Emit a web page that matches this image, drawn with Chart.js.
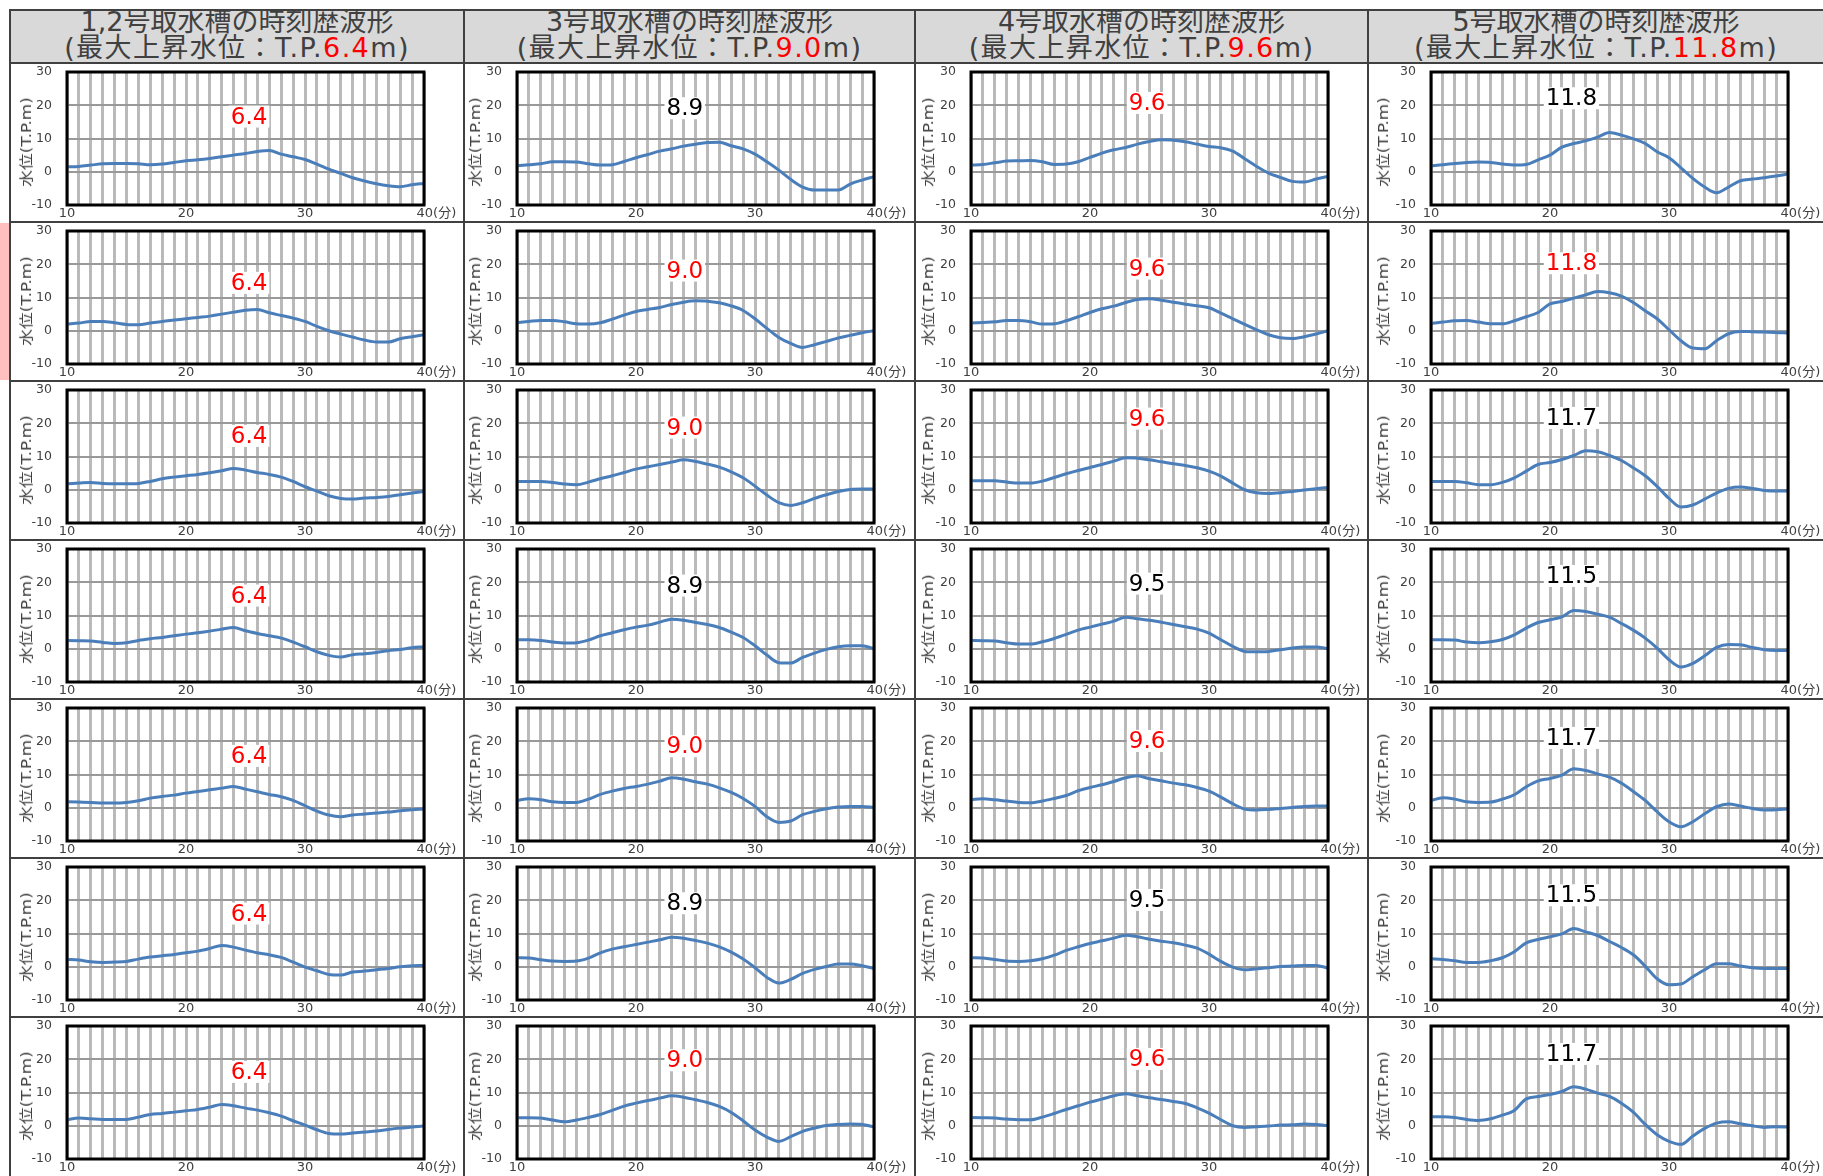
<!DOCTYPE html>
<html lang="ja">
<head>
<meta charset="utf-8">
<title>取水槽の時刻歴波形</title>
<script src="https://cdn.jsdelivr.net/npm/chart.js@4.4.0/dist/chart.umd.min.js"></script>
<style>
  body { margin: 0; background: #fff; }
  #sheet { position: relative; width: 1823px; height: 1176px; overflow: hidden;
           font-family: "DejaVu Sans", "Noto Sans CJK JP", sans-serif; }
  .head { position: absolute; background: #d9d9d9; color: #404040; font-size: 27px;
          line-height: 26px; text-align: center; white-space: nowrap; overflow: hidden; }
  .head div { margin-top: -2px; }
  .head .sub { letter-spacing: 1.4px; }
  .red { color: #ff0000; }
  .line { position: absolute; background: #404040; }
  .ytitle { position: absolute; width: 0; height: 0; }
  .ytitle span { position: absolute; left: 0; top: 0; white-space: nowrap;
                 font-size: 14px; line-height: 14px; color: #404040; }
  canvas { position: absolute; }
</style>
</head>
<body>
<div id="sheet"></div>
<script>
// minutes on the x axis
const minutes = [10, 11, 12, 13, 14, 15, 16, 17, 18, 19, 20, 21, 22, 23, 24, 25,
                 26, 27, 28, 29, 30, 31, 32, 33, 34, 35, 36, 37, 38, 39, 40];

const tankNames = ['1,2号取水槽', '3号取水槽', '4号取水槽', '5号取水槽'];
const maxLevels = ['6.4', '9.0', '9.6', '11.8'];
const yTitle = '水位(T.P.m)';

// water level (T.P.m) per case, one row per case
const tank12Levels = [
  [1.5, 1.6, 2.0, 2.4, 2.5, 2.5, 2.4, 2.1, 2.3, 2.8, 3.3, 3.6, 4.0, 4.5, 5.0, 5.5, 6.1, 6.4, 5.3, 4.5, 3.7, 2.3, 0.8, -0.5, -1.8, -2.8, -3.6, -4.2, -4.5, -3.9, -3.5],
  [2.0, 2.3, 2.8, 2.8, 2.4, 1.9, 1.8, 2.3, 2.8, 3.2, 3.6, 4.0, 4.4, 5.0, 5.6, 6.2, 6.4, 5.4, 4.6, 3.8, 2.8, 1.3, 0.0, -1.0, -1.9, -2.8, -3.4, -3.4, -2.4, -1.8, -1.2],
  [1.8, 2.0, 2.2, 1.9, 1.8, 1.8, 1.9, 2.5, 3.3, 3.8, 4.2, 4.6, 5.1, 5.7, 6.4, 5.9, 5.2, 4.6, 3.8, 2.5, 0.9, -0.4, -1.8, -2.6, -2.8, -2.5, -2.3, -2.0, -1.5, -1.0, -0.5],
  [2.5, 2.4, 2.3, 1.9, 1.6, 1.8, 2.5, 3.0, 3.4, 3.9, 4.4, 4.8, 5.3, 5.9, 6.4, 5.4, 4.6, 3.9, 3.2, 2.0, 0.6, -0.9, -2.0, -2.5, -1.8, -1.5, -1.1, -0.6, -0.2, 0.3, 0.6],
  [1.8, 1.7, 1.6, 1.4, 1.4, 1.6, 2.1, 2.9, 3.4, 3.8, 4.4, 4.9, 5.4, 5.9, 6.4, 5.6, 4.8, 4.0, 3.3, 2.2, 0.6, -1.0, -2.2, -2.7, -2.2, -1.9, -1.6, -1.3, -0.9, -0.6, -0.4],
  [2.2, 2.0, 1.5, 1.3, 1.4, 1.6, 2.3, 2.9, 3.3, 3.7, 4.2, 4.7, 5.5, 6.4, 5.9, 5.0, 4.2, 3.6, 2.8, 1.4, -0.1, -1.2, -2.3, -2.5, -1.6, -1.3, -0.9, -0.5, 0.0, 0.3, 0.4],
  [1.8, 2.3, 2.1, 1.9, 1.9, 1.9, 2.6, 3.4, 3.7, 4.1, 4.5, 4.9, 5.6, 6.4, 6.0, 5.3, 4.7, 3.9, 2.9, 1.5, 0.2, -1.2, -2.3, -2.5, -2.2, -1.9, -1.6, -1.1, -0.7, -0.4, -0.1]
];
const tank3Levels = [
  [1.8, 2.1, 2.4, 3.0, 3.0, 2.9, 2.4, 2.0, 2.1, 3.1, 4.2, 5.2, 6.2, 6.9, 7.7, 8.3, 8.8, 8.9, 7.8, 6.9, 5.3, 3.0, 0.5, -2.3, -4.6, -5.5, -5.5, -5.5, -3.7, -2.5, -1.5],
  [2.4, 2.8, 3.1, 3.1, 2.7, 2.1, 2.0, 2.4, 3.5, 4.7, 5.8, 6.4, 7.0, 7.9, 8.6, 9.0, 8.9, 8.4, 7.5, 6.1, 3.6, 0.7, -2.0, -3.8, -5.0, -4.2, -3.2, -2.2, -1.4, -0.6, 0.0],
  [2.5, 2.5, 2.5, 2.2, 1.7, 1.5, 2.3, 3.3, 4.2, 5.2, 6.2, 6.9, 7.6, 8.3, 9.0, 8.5, 7.7, 6.8, 5.4, 3.6, 1.1, -1.6, -3.9, -4.7, -3.9, -2.6, -1.5, -0.5, 0.1, 0.2, 0.2],
  [2.7, 2.7, 2.5, 2.0, 1.7, 1.8, 2.6, 3.9, 4.8, 5.7, 6.5, 7.1, 8.0, 8.9, 8.6, 7.9, 7.3, 6.4, 5.0, 3.4, 0.9, -1.9, -4.2, -4.3, -2.6, -1.3, -0.2, 0.6, 0.9, 0.9, 0.0],
  [2.2, 2.7, 2.4, 1.8, 1.6, 1.6, 2.6, 4.0, 5.0, 5.8, 6.4, 7.1, 8.0, 9.0, 8.6, 7.8, 7.1, 6.0, 4.6, 2.8, 0.4, -2.7, -4.4, -4.0, -2.1, -1.1, -0.3, 0.2, 0.4, 0.4, 0.1],
  [2.7, 2.6, 2.1, 1.7, 1.6, 1.7, 2.6, 4.2, 5.3, 6.0, 6.7, 7.4, 8.1, 8.9, 8.6, 7.9, 7.1, 6.0, 4.4, 2.3, -0.3, -3.2, -4.9, -3.8, -2.0, -0.8, 0.1, 0.8, 0.8, 0.3, -0.5],
  [2.4, 2.4, 2.3, 1.7, 1.2, 1.7, 2.5, 3.4, 4.6, 5.9, 6.8, 7.6, 8.3, 9.0, 8.6, 7.8, 7.0, 5.8, 4.0, 1.5, -1.3, -3.4, -4.7, -3.3, -1.7, -0.7, 0.1, 0.4, 0.5, 0.4, -0.4]
];
const tank4Levels = [
  [2.0, 2.2, 2.7, 3.2, 3.3, 3.4, 3.0, 2.2, 2.3, 3.0, 4.3, 5.6, 6.6, 7.3, 8.3, 9.1, 9.6, 9.5, 9.0, 8.3, 7.6, 7.2, 6.2, 3.9, 1.6, -0.4, -1.7, -2.9, -3.1, -2.2, -1.4],
  [2.3, 2.5, 2.7, 3.1, 3.1, 2.7, 2.0, 2.1, 3.0, 4.2, 5.5, 6.6, 7.4, 8.5, 9.4, 9.6, 9.2, 8.6, 8.0, 7.5, 6.9, 5.3, 3.6, 1.9, 0.3, -1.2, -2.1, -2.3, -1.8, -1.0, 0.0],
  [2.7, 2.7, 2.7, 2.3, 2.0, 2.0, 2.6, 3.7, 4.8, 5.8, 6.7, 7.6, 8.6, 9.6, 9.5, 9.0, 8.4, 7.8, 7.3, 6.6, 5.6, 4.1, 2.0, 0.0, -0.9, -1.1, -0.9, -0.5, -0.1, 0.3, 0.7],
  [2.5, 2.4, 2.3, 1.8, 1.4, 1.4, 2.1, 3.1, 4.3, 5.6, 6.5, 7.4, 8.3, 9.5, 9.0, 8.6, 8.0, 7.3, 6.6, 5.9, 4.7, 2.7, 0.7, -0.8, -0.9, -0.8, -0.3, 0.2, 0.5, 0.5, 0.0],
  [2.5, 2.7, 2.4, 2.0, 1.6, 1.5, 2.0, 2.8, 3.7, 5.1, 6.1, 6.9, 7.9, 9.0, 9.6, 8.7, 8.1, 7.4, 6.9, 6.1, 5.0, 3.2, 1.2, -0.4, -0.7, -0.5, -0.2, 0.1, 0.4, 0.5, 0.5],
  [2.7, 2.6, 2.2, 1.7, 1.6, 1.8, 2.4, 3.5, 4.9, 6.0, 7.0, 7.8, 8.6, 9.5, 9.0, 8.3, 7.7, 7.2, 6.5, 5.6, 3.8, 1.6, -0.1, -0.9, -0.6, -0.3, 0.1, 0.2, 0.4, 0.4, -0.4],
  [2.5, 2.4, 2.3, 2.0, 1.8, 1.8, 2.6, 3.7, 4.9, 6.0, 7.1, 8.0, 9.0, 9.6, 9.0, 8.4, 7.9, 7.3, 6.7, 5.4, 3.8, 1.8, 0.0, -0.5, -0.3, -0.1, 0.2, 0.3, 0.5, 0.4, 0.0]
];
const tank5Levels = [
  [1.8, 2.1, 2.5, 2.8, 2.9, 2.8, 2.3, 2.0, 2.2, 3.6, 5.0, 7.4, 8.5, 9.3, 10.4, 11.8, 11.0, 9.9, 8.5, 6.0, 4.2, 1.2, -2.0, -4.6, -6.3, -4.6, -2.7, -2.2, -1.8, -1.3, -0.7],
  [2.2, 2.6, 3.0, 3.1, 2.6, 2.1, 2.1, 3.0, 4.2, 5.5, 8.1, 8.8, 9.8, 10.8, 11.8, 11.4, 10.4, 8.5, 6.0, 3.6, 0.3, -3.0, -5.2, -5.4, -3.0, -0.9, -0.2, -0.3, -0.4, -0.5, -0.7],
  [2.5, 2.5, 2.5, 2.1, 1.5, 1.5, 2.2, 3.6, 5.6, 7.6, 8.2, 9.1, 10.3, 11.7, 11.4, 10.3, 8.8, 6.6, 4.2, 1.0, -2.6, -5.2, -4.6, -2.8, -1.0, 0.4, 0.8, 0.4, -0.2, -0.4, -0.4],
  [2.7, 2.7, 2.6, 2.0, 1.8, 2.1, 2.8, 4.2, 6.2, 7.9, 8.7, 9.6, 11.5, 11.2, 10.4, 9.5, 7.6, 5.6, 3.2, 0.2, -3.3, -5.5, -4.4, -2.1, 0.4, 1.3, 1.2, 0.4, -0.3, -0.5, -0.5],
  [2.2, 3.0, 2.6, 1.8, 1.6, 1.7, 2.6, 3.9, 6.3, 8.1, 8.8, 9.8, 11.7, 11.2, 10.2, 9.2, 7.4, 4.9, 2.2, -1.2, -4.2, -5.7, -4.2, -1.8, 0.3, 1.1, 0.5, -0.2, -0.7, -0.6, -0.4],
  [2.4, 2.2, 1.8, 1.3, 1.3, 1.8, 2.7, 4.5, 7.2, 8.2, 9.0, 9.9, 11.5, 10.5, 9.4, 7.6, 5.8, 3.6, 0.2, -3.6, -5.4, -5.2, -3.0, -0.9, 0.9, 0.9, 0.2, -0.3, -0.5, -0.5, -0.5],
  [2.7, 2.7, 2.5, 1.9, 1.6, 2.1, 3.2, 4.6, 8.1, 8.8, 9.4, 10.3, 11.7, 11.0, 9.8, 8.8, 6.8, 4.1, 0.4, -2.7, -4.7, -5.6, -3.1, -0.8, 0.8, 1.2, 0.6, 0.0, -0.5, -0.3, -0.4]
];

// peak value written in each chart, and whether it is shown in red
const tank12Peaks = ['6.4', '6.4', '6.4', '6.4', '6.4', '6.4', '6.4'];
const tank3Peaks = ['8.9', '9.0', '9.0', '8.9', '9.0', '8.9', '9.0'];
const tank4Peaks = ['9.6', '9.6', '9.6', '9.5', '9.6', '9.5', '9.6'];
const tank5Peaks = ['11.8', '11.8', '11.7', '11.5', '11.7', '11.5', '11.7'];
const tank12Marked = [true, true, true, true, true, true, true];
const tank3Marked = [false, true, true, false, true, false, true];
const tank4Marked = [true, true, true, false, true, false, true];
const tank5Marked = [false, true, false, false, false, false, false];

// where the peak text sits, in axis units
const peakLabelX = [25.3, 24.1, 24.8, 21.8];
const peakLabelY = [
  [16.6, 14.4, 16.2, 16.0, 15.6, 16.0, 16.2],
  [19.1, 18.1, 18.7, 19.0, 18.5, 19.1, 19.7],
  [20.7, 18.7, 21.4, 19.6, 20.1, 20.1, 20.1],
  [22.1, 20.3, 21.6, 21.9, 21.0, 21.5, 21.6]
];

const FONT = '"DejaVu Sans", "Noto Sans CJK JP", sans-serif';
Chart.defaults.font.family = FONT;
Chart.defaults.color = '#404040';

var levels = [tank12Levels, tank3Levels, tank4Levels, tank5Levels];
var peaks = [tank12Peaks, tank3Peaks, tank4Peaks, tank5Peaks];
var marked = [tank12Marked, tank3Marked, tank4Marked, tank5Marked];

// page geometry
var colLeft = [11, 465, 916, 1369];
var colRight = [463, 914, 1367, 1823];
var plotLeft = [67, 517, 971, 1431];
var titleX = [26, 475, 927.5, 1382.5];
var PLOT_W = 357, PLOT_H = 133, ROW_H = 159;
var TITLE_LEN = 90;   // the axis title is drawn stretched along its length

var sheet = document.getElementById('sheet');

function box(x, y, w, h, cls, color) {
  var d = document.createElement('div');
  d.className = cls;
  d.style.left = x + 'px';
  d.style.top = y + 'px';
  d.style.width = w + 'px';
  d.style.height = h + 'px';
  if (color) d.style.background = color;
  sheet.appendChild(d);
  return d;
}

// highlighted case marker on the far left
box(0, 223, 9, 157, 'line', '#ffbfbf');

// header cells
for (let c = 0; c < 4; c++) {
  var h = box(colLeft[c], 11, colRight[c] - colLeft[c], 51, 'head');
  h.innerHTML = '<div>' + tankNames[c] + 'の時刻歴波形<br><span class="sub">(最大上昇水位：T.P.<span class="red">' +
    maxLevels[c] + '</span>m)</span></div>';
}

// table rules
box(9, 9, 1814, 2, 'line');
for (let r = 0; r < 7; r++) box(9, 62 + r * ROW_H, 1814, 2, 'line');
[9, 463, 914, 1367].forEach(function (x) { box(x, 9, 2, 1167, 'line'); });

var sheetPlugin = {
  id: 'sheetPlugin',
  afterDatasetsDraw(chart, args, opts) {
    var ctx = chart.ctx, a = chart.chartArea;
    var x = chart.scales.x, y = chart.scales.y;
    ctx.save();
    ctx.strokeStyle = '#000';
    ctx.lineWidth = 3;
    ctx.strokeRect(a.left, a.top, a.right - a.left, a.bottom - a.top);

    // peak value with a white backing box
    var px = x.getPixelForValue(opts.x), py = y.getPixelForValue(opts.y);
    ctx.font = '23px ' + FONT;
    var w = ctx.measureText(opts.text).width;
    ctx.fillStyle = '#fff';
    ctx.fillRect(px - w / 2 - 2, py - 11, w + 4, 22);
    ctx.fillStyle = opts.color;
    ctx.textAlign = 'center';
    ctx.textBaseline = 'middle';
    ctx.fillText(opts.text, px, py + 1);
    ctx.restore();
  }
};

for (let c = 0; c < 4; c++) {
  for (let r = 0; r < 7; r++) {
    let left = colLeft[c], right = colRight[c];
    let top = 64 + r * ROW_H, bottom = top + 157;
    let pTop = 72 + r * ROW_H, pBottom = pTop + PLOT_H;
    let pLeft = plotLeft[c], pRight = pLeft + PLOT_W;

    var cv = document.createElement('canvas');
    cv.width = right - left;
    cv.height = bottom - top;
    cv.style.left = left + 'px';
    cv.style.top = top + 'px';
    sheet.appendChild(cv);

    // axis title as rotated page text
    var t = box(titleX[c], pTop + PLOT_H / 2 + 3, 0, 0, 'ytitle');
    var span = document.createElement('span');
    span.textContent = yTitle;
    t.appendChild(span);
    var k = TITLE_LEN / span.offsetWidth;
    span.style.transform = 'translate(-50%, -50%) rotate(-90deg) scaleX(' + k.toFixed(3) + ')';

    var series = levels[c][r];
    new Chart(cv, {
      type: 'line',
      data: {
        datasets: [{
          data: minutes.map((m, i) => ({ x: m, y: series[i] })),
          borderColor: '#4a7ebb',
          borderWidth: 3,
          pointRadius: 0,
          cubicInterpolationMode: 'monotone',
          fill: false
        }]
      },
      options: {
        responsive: false,
        animation: false,
        devicePixelRatio: 1,
        layout: { padding: { left: 0, top: pTop - top, right: right - pRight, bottom: 0 } },
        plugins: {
          legend: { display: false },
          tooltip: { enabled: false },
          sheetPlugin: {
            x: peakLabelX[c],
            y: peakLabelY[c][r],
            text: peaks[c][r],
            color: marked[c][r] ? '#ff0000' : '#000000'
          }
        },
        scales: {
          x: {
            type: 'linear',
            min: 10,
            max: 40,
            afterFit: function (s) {
              s.height = bottom - pBottom;
              s.paddingLeft = 0;
              s.paddingRight = 0;
            },
            border: { display: false },
            grid: { color: '#bababa', lineWidth: 3, drawTicks: false },
            ticks: {
              stepSize: 1,
              autoSkip: false,
              maxRotation: 0,
              minRotation: 0,
              padding: 1,
              color: '#404040',
              font: { size: 13 },
              callback: function (v) {
                if (v % 10 !== 0) return '';
                return v === 40 ? '\u2007\u2007  40(分)' : String(v);
              }
            }
          },
          y: {
            min: -10,
            max: 30,
            afterFit: function (s) {
              s.width = pLeft - left;
              s.paddingTop = 0;
              s.paddingBottom = 0;
            },
            border: { display: false },
            grid: { color: '#999999', lineWidth: 2, drawTicks: false },
            ticks: { stepSize: 10, padding: 15, color: '#404040', font: { size: 12.5 } }
          }
        }
      },
      plugins: [sheetPlugin]
    });
  }
}
</script>
</body>
</html>
